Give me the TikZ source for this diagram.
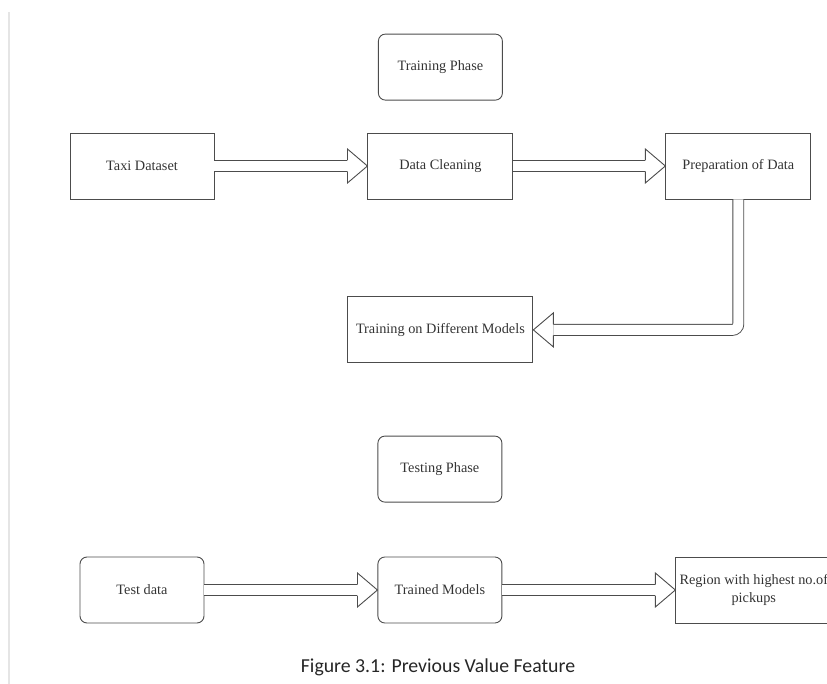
\documentclass[tikz,border=0pt]{standalone}
\usepackage{fontspec}
\setmainfont{Liberation Serif}
\newfontfamily\capfont{Carlito}
\usetikzlibrary{positioning,arrows.meta,calc}

\begin{document}
\begin{tikzpicture}[
    x=1pt, y=-1pt,
    box/.style={draw=black!70, line width=0.9pt, minimum height=66pt, minimum width=145pt, inner sep=2pt,
      align=center, text=black!80, font=\fontsize{14.3}{18}\selectfont},
    phase/.style={box, rounded corners=7pt, minimum width=124pt},
    shaft/.style={draw=black!70, line width=0.9pt, double=white, double distance=10pt, shorten >=20pt},
    fathead/.pic={\draw[black!70, line width=0.9pt, line join=miter]
      (-20,-5.5) -- (-20,-17) -- (0,0) -- (-20,17) -- (-20,5.5);},
  ]
  \useasboundingbox (0,0) rectangle (827,684);
  \draw[black!10, line width=1.5pt] (9,12) -- (9,684);

  % training phase
  \node[box, minimum width=144pt]               (taxi)   at (142,166) {Taxi Dataset};
  \node[box, right=153pt of taxi]               (clean)  {Data Cleaning};
  \node[box, right=152pt of clean]              (prep)   {Preparation of Data};
  \node[phase, above=32pt of clean]             (train)  {Training Phase};
  \node[box, minimum width=185pt, below=97pt of clean] (models) {Training on Different Models};

  \draw[shaft] (taxi.east) -- (clean.west);
  \pic at (clean.west) {fathead};
  \draw[shaft] (clean.east) -- (prep.west);
  \pic at (prep.west) {fathead};
  \draw[shaft, rounded corners=6pt] (prep.south) |- (models.east);
  \pic[rotate=180] at (models.east) {fathead};

  % testing phase
  \node[phase]                                  (tdata)   at (142,590) {Test data};
  \node[phase, right=173pt of tdata]            (trained) {Trained Models};
  \node[phase, above=54pt of trained]           (test)    {Testing Phase};
  \node[box, minimum width=156pt, right=173pt of trained] (region)
    {Region with highest no.of\\pickups};

  \draw[shaft] (tdata.east) -- (trained.west);
  \pic at (trained.west) {fathead};
  \draw[shaft] (trained.east) -- (region.west);
  \pic at (region.west) {fathead};

  \node[anchor=base, text=black!85, font=\capfont\fontsize{19.8}{24}\selectfont] (cap) at (438,672)
    {Figure 3.1: Previous Value Feature};
\end{tikzpicture}
\end{document}
